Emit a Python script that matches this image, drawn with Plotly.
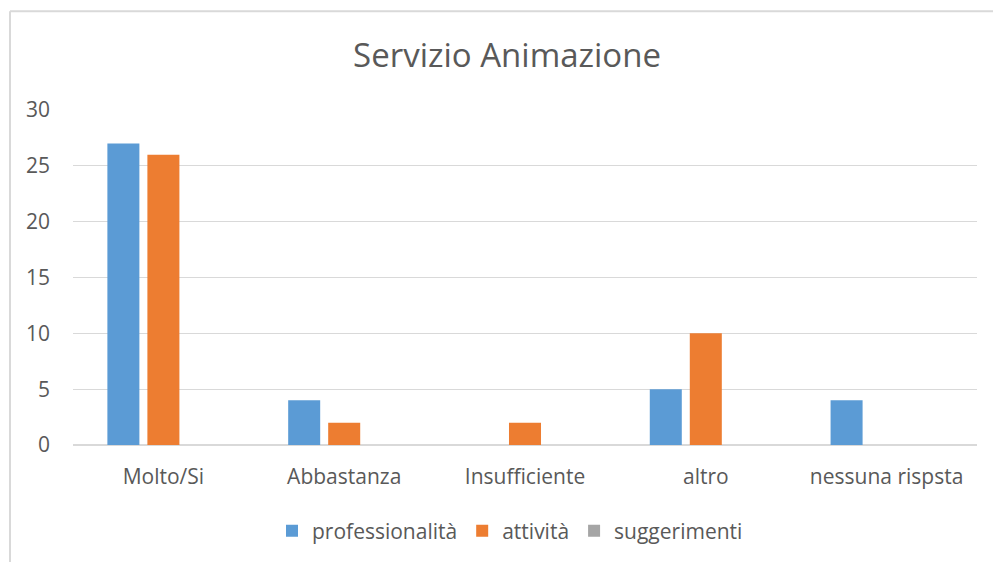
import plotly.graph_objects as go

# Data
categories = ["Molto/Si", "Abbastanza", "Insufficiente", "altro", "nessuna rispsta"]
professionalita = [27, 4, 0, 5, 4]
attivita = [26, 2, 2, 10, 0]
suggerimenti = [0, 0, 0, 0, 0]

series_names = ["professionalità", "attività", "suggerimenti"]
series_colors = ["#5B9BD5", "#ED7D31", "#A5A5A5"]

text_color = "#595959"
grid_color = "#D9D9D9"
font_family = "Open Sans"

fig = go.Figure()
for name, vals, col in zip(series_names, [professionalita, attivita, suggerimenti], series_colors):
    fig.add_trace(go.Bar(
        x=categories, y=vals, name=name,
        marker=dict(color=col, line=dict(width=0)),
    ))

# outer chart border (cropped on the right and bottom in the reference)
W, H = 993, 562
ml, mr, mt, mb = 73, 16, 110, 116
pw, ph = W - ml - mr, H - mt - mb

def px(x):
    return (x - ml) / pw

def py(y):
    return (H - mb - y) / ph

border = dict(type="line", xref="paper", yref="paper",
              line=dict(color=grid_color, width=2), layer="below")
shapes = [
    dict(border, x0=px(10), x1=px(10), y0=py(11), y1=py(H + 5)),
    dict(border, x0=px(10), x1=px(W + 5), y0=py(11), y1=py(11)),
]

fig.update_layout(
    width=W, height=H,
    margin=dict(l=ml, r=mr, t=mt, b=mb, pad=0),
    paper_bgcolor="white", plot_bgcolor="white",
    font=dict(family=font_family, size=21, color=text_color),
    title=dict(text="Servizio Animazione", x=507 / W, xanchor="center",
               y=1 - 55 / H, yanchor="middle",
               font=dict(size=33, color=text_color, family=font_family)),
    barmode="group", bargap=0.336, bargroupgap=0.2,
    showlegend=True,
    legend=dict(orientation="h", x=px(510), xanchor="center",
                y=py(531), yanchor="middle",
                font=dict(size=21, color=text_color),
                itemwidth=30, traceorder="normal"),
    xaxis=dict(showgrid=False, showline=False, ticks="", zeroline=False,
               tickfont=dict(size=21, color=text_color),
               ticklabelstandoff=17),
    yaxis=dict(range=[0, 30], dtick=5, showgrid=True, gridcolor=grid_color,
               gridwidth=1, zeroline=True, zerolinecolor=grid_color,
               zerolinewidth=1.5, showline=False, ticks="",
               tickfont=dict(size=21, color=text_color),
               ticklabelstandoff=22),
    shapes=shapes,
)

fig.write_html("out.html", config={"displayModeBar": False},
               post_script="document.body.style.margin='0';document.body.style.overflow='hidden';")
